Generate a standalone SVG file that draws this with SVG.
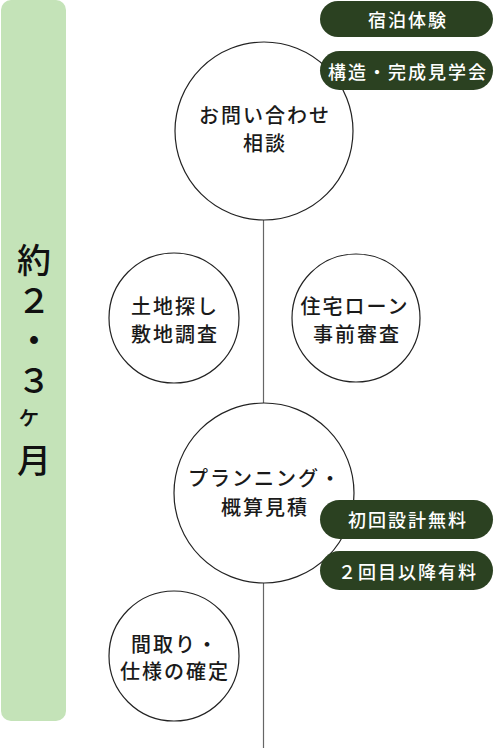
<svg xmlns="http://www.w3.org/2000/svg" width="494" height="750" viewBox="0 0 494 750">
<style>
.c{fill:#fff;stroke:#222;stroke-width:1.2}
.t{font-family:"Noto Sans CJK JP","Noto Sans",sans-serif;font-size:20px;font-weight:500;fill:#1a1a1a;text-anchor:middle;letter-spacing:2px}
.p{fill:#2b4121}
.pt{font-family:"Noto Sans CJK JP","Noto Sans",sans-serif;font-size:18px;font-weight:500;fill:#fff;text-anchor:middle;letter-spacing:2px}
.b{font-family:"Noto Sans CJK JP","Noto Sans",sans-serif;font-size:34px;font-weight:500;fill:#111;writing-mode:vertical-rl;text-orientation:upright;letter-spacing:6px}
.sk{font-size:24px;letter-spacing:16px;font-feature-settings:"vert" 0,"vrt2" 0}
.ln{stroke:#666;stroke-width:1.2;fill:none}
</style>
<rect width="494" height="750" fill="#fff"/>
<g id="period">
<rect x="1" y="0" width="65" height="721" rx="10" fill="#c4e3b8"/>
<text class="b" x="34" y="243">約２・３<tspan class="sk" dx="-5">ヶ</tspan><tspan dx="5">月</tspan></text>
</g>
<g id="connectors">
<line class="ln" x1="263.5" y1="220" x2="263.5" y2="403"/>
<line class="ln" x1="263.5" y1="583" x2="263.5" y2="748"/>
</g>
<g id="node-inquiry">
<circle class="c" cx="264" cy="131" r="89"/>
<text class="t" x="265" y="123">お問い合わせ</text>
<text class="t" x="265" y="151">相談</text>
</g>
<g id="node-land">
<circle class="c" cx="174" cy="318" r="65"/>
<text class="t" x="175" y="314">土地探し</text>
<text class="t" x="175" y="342">敷地調査</text>
</g>
<g id="node-loan">
<circle class="c" cx="356" cy="318" r="64"/>
<text class="t" x="355" y="314">住宅ローン</text>
<text class="t" x="357" y="342">事前審査</text>
</g>
<g id="node-planning">
<circle class="c" cx="264" cy="493" r="90"/>
<text class="t" x="265" y="486">プランニング・</text>
<text class="t" x="265" y="515">概算見積</text>
</g>
<g id="node-spec">
<circle class="c" cx="174" cy="656" r="65"/>
<text class="t" x="175" y="652">間取り・</text>
<text class="t" x="175" y="679">仕様の確定</text>
</g>
<g id="pill-stay">
<rect class="p" x="320" y="1" width="173" height="36" rx="18"/>
<text class="pt" x="408" y="27">宿泊体験</text>
</g>
<g id="pill-tour">
<rect class="p" x="320" y="51" width="173" height="39" rx="19.5"/>
<text class="pt" x="408" y="79">構造・完成見学会</text>
</g>
<g id="pill-design">
<rect class="p" x="320" y="500" width="173" height="39" rx="19.5"/>
<text class="pt" x="408" y="527">初回設計無料</text>
</g>
<g id="pill-paid">
<rect class="p" x="320" y="551" width="173" height="39" rx="19.5"/>
<text class="pt" x="408" y="579">２回目以降有料</text>
</g>
</svg>
